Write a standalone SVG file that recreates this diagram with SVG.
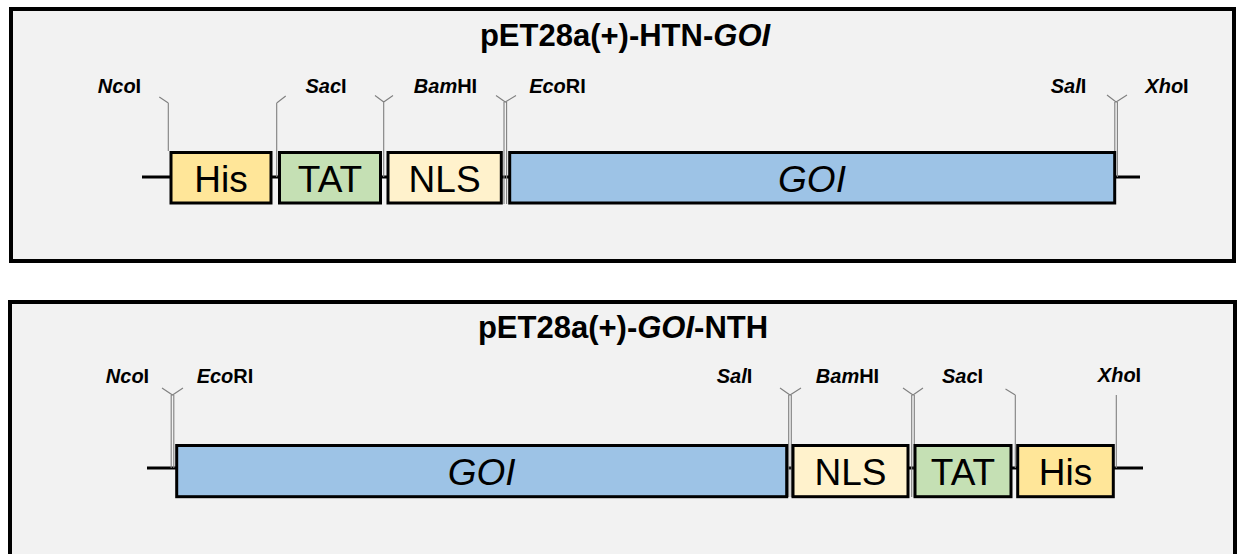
<svg xmlns="http://www.w3.org/2000/svg" width="1237" height="554" viewBox="0 0 1237 554">
<style>
.panel{fill:#f2f2f2;stroke:#000;stroke-width:4}
.box{stroke:#000;stroke-width:3}
.his{fill:#ffe699}.tat{fill:#c5e0b4}.nls{fill:#fff2cc}.goi{fill:#9dc3e6}
.bb{stroke:#000;stroke-width:3;fill:none}
.mk{stroke:#808080;stroke-width:1.1;fill:none}
.title{font-family:"Liberation Sans",Arial,sans-serif;font-weight:bold;font-size:31px;text-anchor:middle;fill:#000}
.lbl{font-family:"Liberation Sans",Arial,sans-serif;font-weight:bold;font-size:20px;text-anchor:middle;fill:#000}
.bt{font-family:"Liberation Sans",Arial,sans-serif;font-size:37px;text-anchor:middle;fill:#000}
.it{font-style:italic}
</style>
<rect width="1237" height="554" fill="#ffffff"/>
<g id="panel-top">
<rect class="panel" x="11" y="9" width="1223" height="252"/>
<text class="title" x="625" y="46">pET28a(+)-HTN-<tspan class="it">GOI</tspan></text>
</g>
<g id="panel-bottom">
<rect class="panel" x="10" y="302" width="1225" height="300"/>
<text class="title" x="623" y="338">pET28a(+)-<tspan class="it">GOI</tspan>-NTH</text>
</g>
<g id="connectors">
<line class="bb" x1="142" y1="177" x2="1140" y2="177"/>
<line class="bb" x1="147" y1="468" x2="1143" y2="468"/>
<path class="mk" d="M168.3 103V151M168.3 103L159.3 97"/>
<path class="mk" d="M276.7 103V177M276.7 103L285.7 96"/>
<path class="mk" d="M383.7 102V177M375 95.5L383.7 102L393 95.5"/>
<path class="mk" d="M504 102V204M506.6 102V204M496 95.5L505.3 102L516 95.5"/>
<path class="mk" d="M1114.8 102V177M1117.4 102V177M1107 95L1116.1 102L1127 95"/>
<path class="mk" d="M171.2 395V468M173.8 395V468M162 388L172.5 395L183 388"/>
<path class="mk" d="M788.7 395V497M791.3 395V497M780 388L790 395L801 388"/>
<path class="mk" d="M911.7 395V497M914.3 395V497M903 388L913 395L923 388"/>
<path class="mk" d="M1015.3 395V468M1015.3 395L1005.5 389"/>
<path class="mk" d="M1116.3 395V468"/>
</g>
<g id="top-his"><rect class="box his" x="171" y="152.5" width="100" height="50.5"/><text class="bt" x="221" y="191.5">His</text></g>
<g id="top-tat"><rect class="box tat" x="279.5" y="152.5" width="101" height="50.5"/><text class="bt" x="330" y="191.5">TAT</text></g>
<g id="top-nls"><rect class="box nls" x="388" y="152.5" width="113.3" height="50.5"/><text class="bt" x="444.6" y="191.5">NLS</text></g>
<g id="top-goi"><rect class="box goi" x="509.7" y="152.5" width="605" height="50.5"/><text class="bt it" x="812" y="191.5">GOI</text></g>
<g id="top-sites">
<text class="lbl" x="119.5" y="92.5"><tspan class="it">Nco</tspan>I</text>
<text class="lbl" x="326" y="92.5"><tspan class="it">Sac</tspan>I</text>
<text class="lbl" x="445.5" y="92.5"><tspan class="it">Bam</tspan>HI</text>
<text class="lbl" x="557.5" y="92.5"><tspan class="it">Eco</tspan>RI</text>
<text class="lbl" x="1068.5" y="92.5"><tspan class="it">Sal</tspan>I</text>
<text class="lbl" x="1167" y="92.5"><tspan class="it">Xho</tspan>I</text>
</g>
<g id="bot-goi"><rect class="box goi" x="176.7" y="445.5" width="610" height="51.2"/><text class="bt it" x="481.7" y="484.5">GOI</text></g>
<g id="bot-nls"><rect class="box nls" x="793" y="445.5" width="115" height="51.2"/><text class="bt" x="850.5" y="484.5">NLS</text></g>
<g id="bot-tat"><rect class="box tat" x="915" y="445.5" width="96" height="51.2"/><text class="bt" x="963" y="484.5">TAT</text></g>
<g id="bot-his"><rect class="box his" x="1017.7" y="445.5" width="95.6" height="51.2"/><text class="bt" x="1065.5" y="484.5">His</text></g>
<g id="bot-sites">
<text class="lbl" x="127.5" y="383"><tspan class="it">Nco</tspan>I</text>
<text class="lbl" x="225" y="383"><tspan class="it">Eco</tspan>RI</text>
<text class="lbl" x="734.5" y="383"><tspan class="it">Sal</tspan>I</text>
<text class="lbl" x="847.5" y="383"><tspan class="it">Bam</tspan>HI</text>
<text class="lbl" x="962.5" y="383"><tspan class="it">Sac</tspan>I</text>
<text class="lbl" x="1119.5" y="382"><tspan class="it">Xho</tspan>I</text>
</g>
</svg>
